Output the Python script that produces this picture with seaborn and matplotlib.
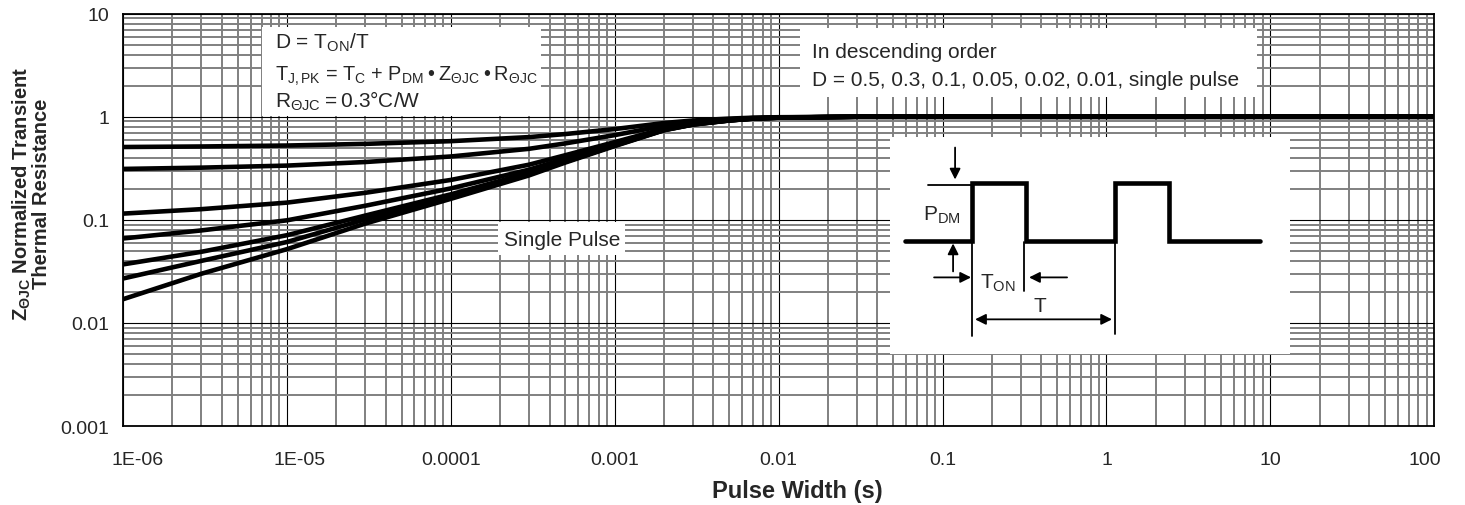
import numpy as np
import pandas as pd
import seaborn as sns
import matplotlib.pyplot as plt
import matplotlib.transforms as mtransforms
from matplotlib.patches import Rectangle
from matplotlib.ticker import LogLocator, NullFormatter

# pulse width (s) sample points
pulse_width = [1e-6, 3e-6, 1e-5, 3e-5, 1e-4, 3e-4, 5e-4, 1e-3, 2e-3, 3e-3, 5e-3, 7e-3, 1e-2, 3e-2, 100]

# normalized transient thermal resistance per duty cycle
z_d050 = [0.509, 0.515, 0.526, 0.546, 0.580, 0.635, 0.680, 0.760, 0.870, 0.920, 0.960, 0.980, 0.990, 1.0, 1.0]
z_d030 = [0.312, 0.321, 0.336, 0.364, 0.412, 0.489, 0.552, 0.664, 0.818, 0.888, 0.944, 0.972, 0.986, 1.0, 1.0]
z_d010 = [0.115, 0.127, 0.147, 0.183, 0.244, 0.343, 0.424, 0.568, 0.766, 0.856, 0.928, 0.964, 0.982, 1.0, 1.0]
z_d005 = [0.066, 0.079, 0.099, 0.137, 0.202, 0.307, 0.392, 0.544, 0.753, 0.848, 0.924, 0.962, 0.981, 1.0, 1.0]
z_d002 = [0.037, 0.049, 0.071, 0.110, 0.177, 0.285, 0.373, 0.530, 0.745, 0.843, 0.922, 0.961, 0.980, 1.0, 1.0]
z_d001 = [0.027, 0.040, 0.061, 0.101, 0.168, 0.277, 0.366, 0.525, 0.743, 0.842, 0.921, 0.960, 0.980, 1.0, 1.0]
z_single = [0.017, 0.030, 0.052, 0.092, 0.160, 0.270, 0.360, 0.520, 0.740, 0.840, 0.920, 0.960, 0.980, 1.0, 1.0]

duty_labels = ["0.5", "0.3", "0.1", "0.05", "0.02", "0.01", "single"]
x_ticks = [1e-6, 1e-5, 1e-4, 1e-3, 1e-2, 1e-1, 1, 10, 100]
x_ticklabels = ["1E-06", "1E-05", "0.0001", "0.001", "0.01", "0.1", "1", "10", "100"]
y_ticks = [0.001, 0.01, 0.1, 1, 10]
y_ticklabels = ["0.001", "0.01", "0.1", "1", "10"]

# inset schematic (box-local units, y downward)
wave_x = [15, 82, 82, 136, 136, 225, 225, 279, 279, 370]
wave_y = [105, 105, 46, 46, 105, 105, 46, 46, 105, 105]

series = [z_d050, z_d030, z_d010, z_d005, z_d002, z_d001, z_single]
df = pd.concat([pd.DataFrame({"t": pulse_width, "z": s, "D": d})
                for s, d in zip(series, duty_labels)], ignore_index=True)

sns.set_theme(style="white")
plt.rcParams["font.family"] = ["Liberation Sans", "DejaVu Sans"]
plt.rcParams["mathtext.fontset"] = "custom"
plt.rcParams["mathtext.rm"] = "Liberation Sans"
plt.rcParams["mathtext.it"] = "Liberation Sans:italic"
plt.rcParams["mathtext.bf"] = "Liberation Sans:bold"

fig, ax = plt.subplots(figsize=(14.65, 5.06), dpi=100)
fig.subplots_adjust(left=0.084, right=0.979, top=0.971, bottom=0.156)

ax.set_xscale("log")
ax.set_yscale("log")
ax.set_xlim(1e-6, 100)
ax.set_ylim(0.001, 10)
ax.set_axisbelow(True)

ax.set_xticks(x_ticks)
ax.set_xticklabels(x_ticklabels)
ax.set_yticks(y_ticks)
ax.set_yticklabels(y_ticklabels)
ax.xaxis.set_minor_locator(LogLocator(base=10, subs=np.arange(2, 10), numticks=100))
ax.yaxis.set_minor_locator(LogLocator(base=10, subs=np.arange(2, 10), numticks=100))
ax.xaxis.set_minor_formatter(NullFormatter())
ax.yaxis.set_minor_formatter(NullFormatter())
ax.tick_params(which="both", length=0)
ax.tick_params(axis="x", labelsize=14, pad=18)
ax.tick_params(axis="y", labelsize=14, pad=10)

# end labels sit a little inward, as in the original
shifts = {"1E-06": 15, "1E-05": 13, "100": -9}
for lab in ax.get_xticklabels():
    dx = shifts.get(lab.get_text(), 0)
    if dx:
        lab.set_transform(lab.get_transform() + mtransforms.ScaledTranslation(dx / 100, 0, fig.dpi_scale_trans))

ax.grid(which="minor", color="#808080", lw=1.4)
ax.grid(which="major", color="black", lw=0.8)
for sp in ax.spines.values():
    sp.set_color("black")
    sp.set_linewidth(1.3)

sns.lineplot(data=df, x="t", y="z", units="D", estimator=None, color="black",
             lw=3.3, ax=ax, zorder=3, legend=False)
ax.set_xlabel("")
ax.set_ylabel("")

# white annotation boxes
def white_box(x0, y0, x1, y1):
    ax.add_patch(Rectangle((x0, y0), x1 - x0, y1 - y0, transform=ax.transAxes,
                           facecolor="white", edgecolor="none", zorder=1.5))

white_box(0.106, 0.751, 0.319, 0.967)
white_box(0.516, 0.799, 0.865, 0.966)
white_box(0.286, 0.416, 0.383, 0.496)

fs = 15
sub = r"$_{\mathregular{%s}}$"
ts = "\u2009"
ax.text(0.116, 0.918, "D = T" + sub % "ON" + "/T", transform=ax.transAxes,
        fontsize=fs, va="baseline", zorder=4)
ax.text(0.116, 0.840, "T" + sub % "J,PK" + " = T" + sub % "C" + " + P" + sub % "DM"
        + ts + "\u2022" + ts + "Z" + sub % "\u0398JC" + ts + "\u2022" + ts + "R" + sub % "\u0398JC",
        transform=ax.transAxes, fontsize=14.3, va="baseline", zorder=4)
ax.text(0.116, 0.775, "R" + sub % "\u0398JC" + ts + "=" + ts + "0.3\u00b0C/W", transform=ax.transAxes,
        fontsize=fs, va="baseline", zorder=4)
ax.text(0.5256, 0.896, "In descending order", transform=ax.transAxes,
        fontsize=fs, va="baseline", zorder=4)
ax.text(0.5256, 0.828, "D = 0.5, 0.3, 0.1, 0.05, 0.02, 0.01, single pulse",
        transform=ax.transAxes, fontsize=fs, va="baseline", zorder=4)
ax.text(0.335, 0.438, "Single Pulse", transform=ax.transAxes, fontsize=fs,
        ha="center", va="baseline", zorder=4)

# inset schematic of the pulse train
ins = ax.inset_axes([0.585, 0.174, 0.305, 0.528])
ins.set_xlim(0, 400)
ins.set_ylim(218, 0)
ins.set_axis_off()
ins.add_patch(Rectangle((0, 0), 400, 218, facecolor="white", edgecolor="none", zorder=0))
ins.plot(wave_x, wave_y, color="black", lw=3.3, solid_joinstyle="miter", zorder=3)
thin = dict(color="black", lw=1.3)
ins.plot([38, 82], [48, 48], **thin)
ins.plot([82, 82], [105, 200], **thin)
ins.plot([134, 134], [106, 155], **thin)
ins.plot([225, 225], [106, 198], **thin)
arr = dict(arrowstyle="-|>", color="black", lw=1.3, mutation_scale=16, shrinkA=0, shrinkB=0)
ins.annotate("", xy=(65, 43), xytext=(65, 11), arrowprops=arr)
ins.annotate("", xy=(63, 107), xytext=(63, 135), arrowprops=arr)
ins.annotate("", xy=(81, 141), xytext=(44, 141), arrowprops=arr)
ins.annotate("", xy=(139, 141), xytext=(177, 141), arrowprops=arr)
ins.annotate("", xy=(222, 183), xytext=(85, 183),
             arrowprops=dict(arrowstyle="<|-|>", color="black", lw=1.3,
                             mutation_scale=16, shrinkA=0, shrinkB=0))
ins.text(33, 83, "P" + sub % "DM", fontsize=fs, va="baseline")
ins.text(90, 151, "T" + sub % "ON", fontsize=fs, va="baseline")
ins.text(150, 175, "T", fontsize=fs, ha="center", va="baseline")

# axis titles
fig.text(0.544, 0.016, "Pulse Width (s)", fontsize=17, fontweight="bold",
         ha="center", va="baseline")
fig.text(0.021, 0.617, r"$\mathbf{Z}_{\mathregular{\Theta JC}}$" + " Normalized Transient\nThermal Resistance",
         fontsize=14.5, fontweight="bold", rotation=90, ha="center", va="center",
         multialignment="center", linespacing=0.95)

fig.savefig("out.png", dpi=100)
